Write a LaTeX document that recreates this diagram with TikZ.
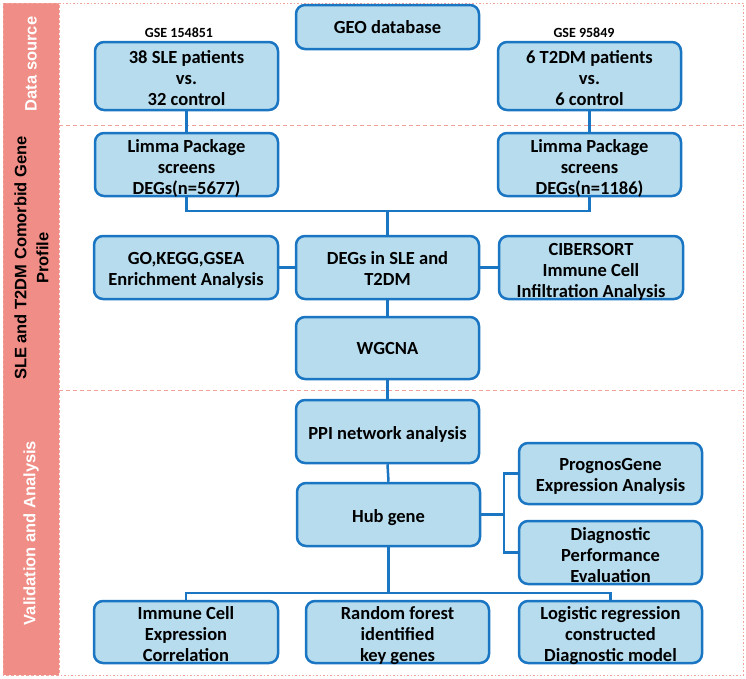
\documentclass[tikz,border=0pt]{standalone}
\usepackage{fontspec}
\newfontfamily\boxfont{Carlito}
\newfontfamily\bandfont{Liberation Sans}
\definecolor{boxblue}{HTML}{1A75C2}
\definecolor{boxfill}{HTML}{B6DCEE}
\definecolor{bandpink}{HTML}{EF8D86}
\definecolor{linepink}{HTML}{F2A19B}
\tikzset{
  flowbox/.style={draw=boxblue, fill=boxfill, line width=2.5pt, rounded corners=9pt,
    minimum width=183pt, minimum height=63pt, align=center, inner sep=0pt,
    font=\boxfont\bfseries\fontsize{18.5}{21}\selectfont},
  lowtext/.style={execute at begin node={\rule{0pt}{#1}}},
  lowtext/.default=22pt,
  threeline/.style={text height=60.5pt, text depth=1.5pt},
  twoline/.style={text height=38pt, text depth=1.5pt},
  conn/.style={draw=boxblue, line width=2.5pt},
  gselabel/.style={font=\boxfont\bfseries\fontsize{14}{16}\selectfont, inner sep=0pt},
  bandtext/.style={rotate=90, align=center, inner sep=0pt,
    font=\bandfont\bfseries\fontsize{16.5}{22}\selectfont},
  sectionline/.style={draw=linepink, line width=1pt, dash pattern=on 4pt off 3pt}
}
\begin{document}
\begin{tikzpicture}[x=1pt,y=-1pt]
\useasboundingbox (0,0) rectangle (746,678);
% frame and band
\fill[bandpink] (3,3) rectangle (59,675);
\draw[linepink, line width=0.8pt, dash pattern=on 3pt off 2pt] (3,3) rectangle (59,675);
\draw[linepink, line width=1pt, dash pattern=on 1.5pt off 2pt] (59,3) -- (743,3) -- (743,675) -- (59,675);
\draw[sectionline] (59,125) -- (743,125);
\draw[sectionline] (59,390) -- (743,390);
% band labels
\node[bandtext, text=white] (bdata) at (31,64) {Data source};
\node[bandtext, text=black] (bprof) at (31.5,258) {SLE and T2DM Comorbid Gene\\Profile};
\node[bandtext, text=white] (bval) at (31,533) {Validation and Analysis};
% nodes
\node[flowbox, minimum height=44pt] (geo) at (387.5,27) {GEO database};
\node[gselabel] (gse1) at (179,33) {GSE 154851};
\node[gselabel] (gse2) at (584,33) {GSE 95849};
\node[flowbox, threeline, minimum height=68pt] (sle) at (186.5,76) {38 SLE patients\\vs.\\32 control};
\node[flowbox, threeline, minimum height=68pt] (t2dm) at (589.5,76) {6 T2DM patients\\vs.\\6 control};
\node[flowbox, threeline] (limL) at (186.5,164.5) {Limma Package\\screens\\DEGs(n=5677)};
\node[flowbox, threeline] (limR) at (589.5,164.5) {Limma Package\\screens\\DEGs(n=1186)};
\node[flowbox, twoline, minimum width=184pt] (go) at (186,267.5) {GO,KEGG,GSEA\\Enrichment Analysis};
\node[flowbox, twoline] (deg) at (387.5,267.5) {DEGs in SLE and\\T2DM};
\node[flowbox, threeline, minimum width=184pt] (cib) at (591,267.5) {CIBERSORT\\Immune Cell\\Infiltration Analysis};
\node[flowbox, minimum height=62pt] (wgcna) at (387.5,348) {WGCNA};
\node[flowbox, lowtext=18pt] (ppi) at (387.5,431.5) {PPI network analysis};
\node[flowbox, lowtext=20pt] (hub) at (388.5,514.5) {Hub gene};
\node[flowbox, twoline, minimum height=61pt] (prog) at (610.5,473.5) {PrognosGene\\Expression Analysis};
\node[flowbox, threeline] (diag) at (610.5,552.5) {Diagnostic\\Performance\\Evaluation};
\node[flowbox, threeline, minimum width=184pt, minimum height=62pt] (imm) at (186,632) {Immune Cell\\Expression\\Correlation};
\node[flowbox, threeline, minimum height=62pt] (rf) at (397.5,632) {Random forest\\identified\\key genes};
\node[flowbox, threeline, minimum height=62pt] (logr) at (610.5,632) {Logistic regression\\constructed\\Diagnostic model};
% junctions
\coordinate (j1) at (387.5,211);
\coordinate (j2) at (504,514.5);
\coordinate (j3) at (388.5,593);
% connectors
\draw[conn] (sle.south) -- (limL.north);
\draw[conn] (t2dm.south) -- (limR.north);
\draw[conn] (limL.south) |- (j1) -| (limR.south);
\draw[conn] (j1) -- (deg.north);
\draw[conn] (go.east) -- (deg.west);
\draw[conn] (deg.east) -- (cib.west);
\draw[conn] (deg.south) -- (wgcna.north);
\draw[conn] (wgcna.south) -- (ppi.north);
\draw[conn] (ppi.south) -- (hub.north);
\draw[conn] (hub.east) -- (j2);
\draw[conn] (prog.west) -| (j2) |- (diag.west);
\draw[conn] (hub.south) -- (j3);
\draw[conn] (imm.north) |- (j3) -| (logr.north);
\end{tikzpicture}
\end{document}
